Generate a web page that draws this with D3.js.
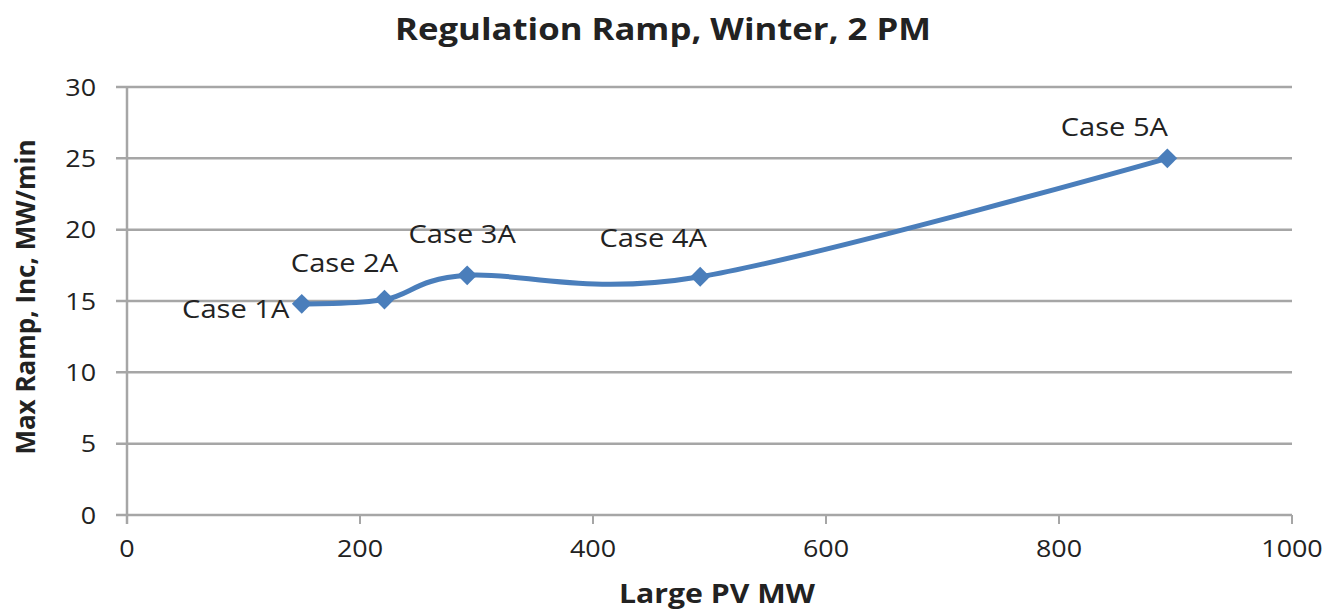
<!DOCTYPE html>
<html>
<head>
<meta charset="utf-8">
<script src="https://cdn.jsdelivr.net/npm/d3@7"></script>
<style>
  body { margin: 0; background: #fff; }
  text { font-family: "Open Sans", sans-serif; fill: #222; }
</style>
</head>
<body>
<div id="chart"></div>
<script>
// data
var cases = ["Case 1A", "Case 2A", "Case 3A", "Case 4A", "Case 5A"];
var pvMW = [150, 221, 292, 492, 893];
var maxRamp = [14.8, 15.1, 16.8, 16.7, 25.0];
var xTicks = [0, 200, 400, 600, 800, 1000];
var yTicks = [0, 5, 10, 15, 20, 25, 30];

// label placement (dx, dy from the point), like the hand-dragged Excel labels
var labelShift = [[-66, 14], [-40, -28], [-5, -32], [-47, -30], [-53, -22]];

// the original picture is a bit wider than tall, so the text looks stretched
var stretch = 1.12;

var margin = {top: 87, right: 40, bottom: 96, left: 127},
    width = 1332 - margin.left - margin.right,
    height = 611 - margin.top - margin.bottom;

var x = d3.scaleLinear().domain([0, 1000]).range([0, width]);
var y = d3.scaleLinear().domain([0, 30]).range([height, 0]);

var svg = d3.select("#chart").append("svg")
    .attr("width", 1332)
    .attr("height", 611);

var g = svg.append("g")
    .attr("transform", "translate(" + margin.left + "," + margin.top + ")");

function place(px, py) {
  return "translate(" + px + "," + py + ") scale(" + stretch + ",1)";
}

// gridlines
g.append("g")
    .selectAll("line")
    .data(yTicks)
    .join("line")
    .attr("x1", -11)
    .attr("x2", width)
    .attr("y1", function(d) { return y(d); })
    .attr("y2", function(d) { return y(d); })
    .attr("stroke", "#a6a6a6")
    .attr("stroke-width", 2.5);

// y axis line
g.append("line")
    .attr("x1", 0).attr("x2", 0)
    .attr("y1", 0).attr("y2", height + 9)
    .attr("stroke", "#a6a6a6")
    .attr("stroke-width", 2.5);

// x ticks
g.append("g")
    .selectAll("line")
    .data(xTicks)
    .join("line")
    .attr("x1", function(d) { return x(d); })
    .attr("x2", function(d) { return x(d); })
    .attr("y1", height)
    .attr("y2", height + 9)
    .attr("stroke", "#a6a6a6")
    .attr("stroke-width", 2);

// tick labels
g.append("g")
    .selectAll("text")
    .data(yTicks)
    .join("text")
    .attr("transform", function(d) { return place(-31, y(d)); })
    .attr("dy", "0.36em")
    .attr("text-anchor", "end")
    .attr("font-size", 24)
    .text(function(d) { return d; });

g.append("g")
    .selectAll("text")
    .data(xTicks)
    .join("text")
    .attr("transform", function(d) { return place(x(d), height + 42); })
    .attr("text-anchor", "middle")
    .attr("font-size", 24)
    .text(function(d) { return d; });

// the smoothed line
var points = pvMW.map(function(v, i) { return [v, maxRamp[i]]; });

var valueline = d3.line()
    .curve(d3.curveCardinal.tension(0))
    .x(function(d) { return x(d[0]); })
    .y(function(d) { return y(d[1]); });

g.append("path")
    .datum(points)
    .attr("d", valueline)
    .attr("fill", "none")
    .attr("stroke", "#4a7ebb")
    .attr("stroke-width", 5);

// diamond markers
g.append("g")
    .selectAll("path")
    .data(points)
    .join("path")
    .attr("transform", function(d) { return "translate(" + x(d[0]) + "," + y(d[1]) + ")"; })
    .attr("d", d3.symbol().type(d3.symbolDiamond2).size(250))
    .attr("fill", "#4a7ebb");

// data labels
g.append("g")
    .selectAll("text")
    .data(points)
    .join("text")
    .attr("transform", function(d, i) {
      return place(x(d[0]) + labelShift[i][0], y(d[1]) + labelShift[i][1]);
    })
    .attr("text-anchor", "middle")
    .attr("font-size", 26)
    .text(function(d, i) { return cases[i]; });

// title and axis titles
svg.append("text")
    .attr("transform", place(663, 40))
    .attr("text-anchor", "middle")
    .attr("font-size", 31)
    .attr("font-weight", "bold")
    .text("Regulation Ramp, Winter, 2 PM");

svg.append("text")
    .attr("transform", place(717, 603))
    .attr("text-anchor", "middle")
    .attr("font-size", 27)
    .attr("font-weight", "bold")
    .text("Large PV MW");

svg.append("text")
    .attr("transform", "translate(35,297) rotate(-90)")
    .attr("text-anchor", "middle")
    .attr("font-size", 26)
    .attr("font-weight", "bold")
    .text("Max Ramp, Inc, MW/min");
</script>
</body>
</html>
